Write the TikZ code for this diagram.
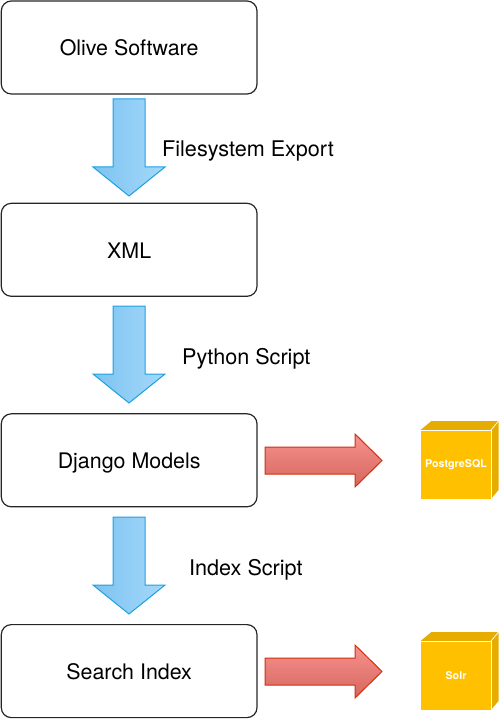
\documentclass[tikz,border=0pt]{standalone}
\usepackage{fontspec}
\setmainfont{TeX Gyre Heros}
\definecolor{bluel}{HTML}{7CC3F0}
\definecolor{bluer}{HTML}{A6D8FB}
\definecolor{blueline}{HTML}{1BA1E2}
\definecolor{redt}{HTML}{F8918D}
\definecolor{redb}{HTML}{D5675F}
\definecolor{redline}{HTML}{D0300F}
\definecolor{cubef}{HTML}{FFC000}
\definecolor{cubes}{HTML}{E6AC00}
\tikzset{
  x=1pt,y=-1pt,
  stage/.style={draw=black!85,line width=1.2pt,rounded corners=10pt,outer sep=0pt,minimum width=255.7pt,minimum height=93pt,inner sep=0pt,text height=17pt,text depth=0pt,font=\fontsize{21.4}{25}\selectfont,anchor=north west},
  lbl/.style={font=\fontsize{21.6}{25}\selectfont,inner sep=0pt,anchor=base west},
  bluearrow/.style={draw=blueline,line width=1pt,left color=bluel,right color=bluer,miter limit=10},
  redarrow/.style={draw=redline,line width=1pt,top color=redt,bottom color=redb,miter limit=10},
  cubefront/.style={fill=cubef,draw=white,line width=1pt},
  cubelabel/.style={text=white,font=\bfseries\fontsize{10.7}{12}\selectfont,inner sep=0pt},
}
\newcommand{\downarrowat}[1]{%
  \draw[bluearrow] (113,#1) -- (145,#1) -- (145,#1+68) -- (165,#1+68) -- (129,#1+97) -- (93,#1+68) -- (113,#1+68) -- cycle;}
\newcommand{\rightarrowat}[1]{%
  \draw[redarrow] (265,#1-13.5) -- (355,#1-13.5) -- (355,#1-26.5) -- (382,#1) -- (355,#1+26.5) -- (355,#1+13.5) -- (265,#1+13.5) -- cycle;}
\newcommand{\cubeat}[3]{%
  \fill[cubes] (420.5,#1) -- (431.5,#1-9) -- (498.5,#1-9) -- (491,#1) -- cycle;
  \fill[cubes] (491,#1) -- (498.5,#1-9) -- (498.5,#1+60) -- (491,#1+69) -- cycle;
  \draw[white,line width=.7pt] (491,#1) -- (498.5,#1-9);
  \draw[cubefront] (420.5,#1) rectangle (491,#1+69);
  \node[cubelabel] (#2) at (456,#1+34.5) {#3};}
\begin{document}
\begin{tikzpicture}
\useasboundingbox (0,0) rectangle (500,719);
\node[stage] (olive) at (1.3,1) {Olive Software};
\node[stage] (xml) at (1.3,203.3) {XML};
\node[stage] (django) at (1.3,413.8) {Django Models};
\node[stage] (search) at (1.3,624.6) {Search Index};
\downarrowat{99}
\downarrowat{306}
\downarrowat{517}
\rightarrowat{460.5}
\rightarrowat{671.5}
\node[lbl] (l1) at (162,157) {Filesystem Export};
\node[lbl] (l2) at (182,364.5) {Python Script};
\node[lbl] (l3) at (189,575) {Index Script};
\cubeat{430}{pg}{PostgreSQL}
\cubeat{641}{solr}{Solr}
\end{tikzpicture}
\end{document}
